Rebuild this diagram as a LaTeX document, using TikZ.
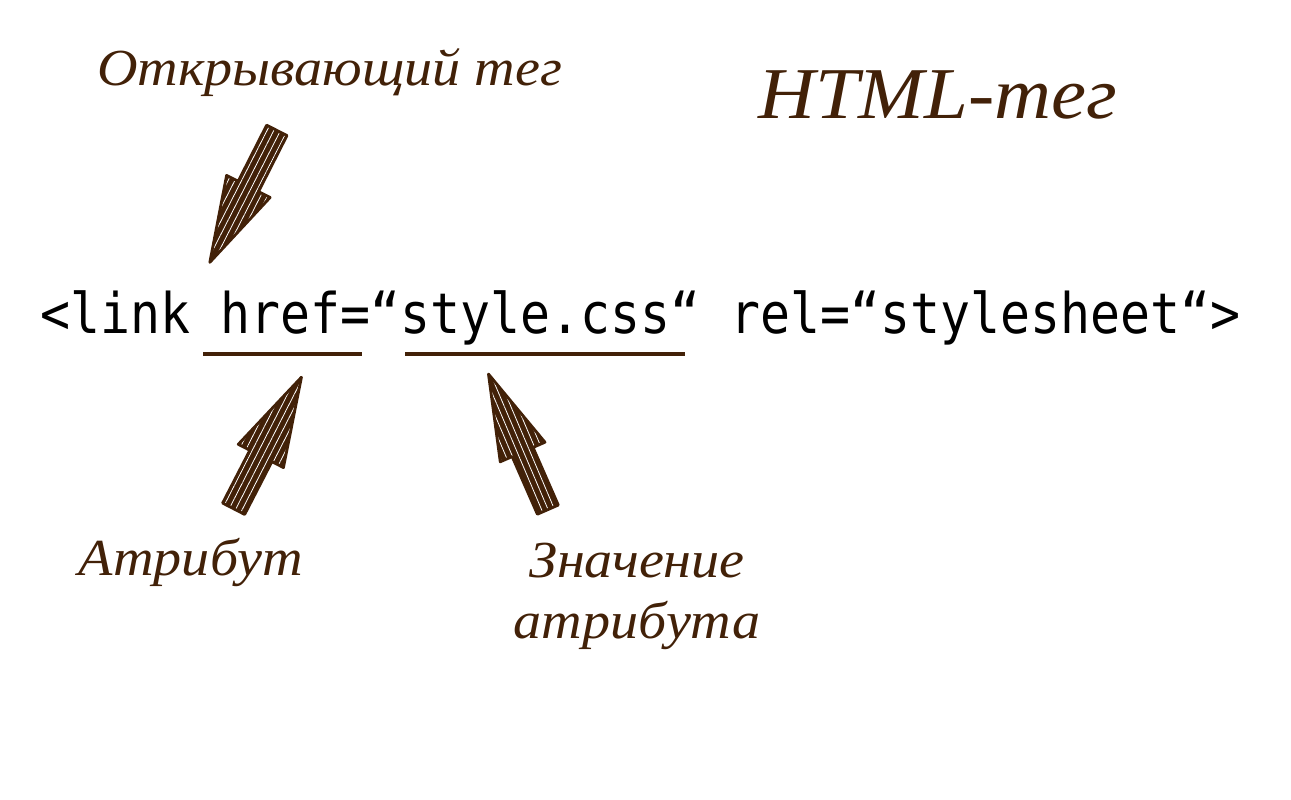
\documentclass[tikz,border=0pt]{standalone}
\usepackage{fontspec}
\setmainfont{Liberation Serif}
\newfontfamily\handfont[FakeStretch=1.08]{Liberation Serif}
\newfontfamily\codefont[FakeStretch=0.89]{DejaVu Sans Mono}
\usetikzlibrary{positioning, shapes.arrows, patterns.meta}
\definecolor{sketch}{RGB}{66,33,8}
\tikzset{caption/.style = {text = sketch, inner sep = 0pt, font = \handfont\itshape\fontsize{52}{61}\selectfont}}
\tikzset{code/.style = {inner sep = 0pt, font = \codefont\fontsize{56}{60}\selectfont}}
\tikzset{underline/.style = {draw = sketch, line width = 4pt}}
\tikzset{fatarrow/.style = {single arrow, draw = sketch, line width = 2.8pt, line join = round,
  preaction = {fill = sketch}, pattern = {Lines[angle = #1, distance = 6pt, line width = 0.8pt]},
  pattern color = white, inner xsep = 0pt, inner ysep = 11pt, minimum width = 48pt,
  minimum height = 148pt, single arrow tip angle = 32, single arrow head extend = 13pt,
  sloped, allow upside down, pos = 0, anchor = tail}}

\begin{document}
\begin{tikzpicture}[x = 1pt, y = -1pt]
	\path[fill = white] (0, 0) rectangle (1291, 800);

	\node[code, anchor = base west] (line) at (40, 333) {<link href=“style.css“ rel=“stylesheet“>};
	\draw[underline] (203, 354) -- (362, 354);
	\draw[underline] (405, 354) -- (685, 354);

	\node[caption, anchor = base west] (open) at (97, 85) {Открывающий тег};
	\node[caption, anchor = base west, font = \handfont\itshape\fontsize{73}{90}\selectfont] (title) at (758, 118) {HTML-тег};
	\node[caption, anchor = base] (attr) at (191, 575) {Атрибут};
	\node[caption, align = center] (value) at (637, 596) {Значение\\атрибута};

	\coordinate (opentail) at (277, 130);
	\coordinate (opentip) at (210, 262);
	\coordinate (attrtail) at (233, 510);
	\coordinate (attrtip) at (300, 380);
	\coordinate (valuetail) at (548, 510);
	\coordinate (valuetip) at (488, 373);

	\path (opentail) -- node[fatarrow = 63] {} (opentip);
	\path (attrtail) -- node[fatarrow = 63] {} (attrtip);
	\path (valuetail) -- node[fatarrow = 113] {} (valuetip);
\end{tikzpicture}
\end{document}
